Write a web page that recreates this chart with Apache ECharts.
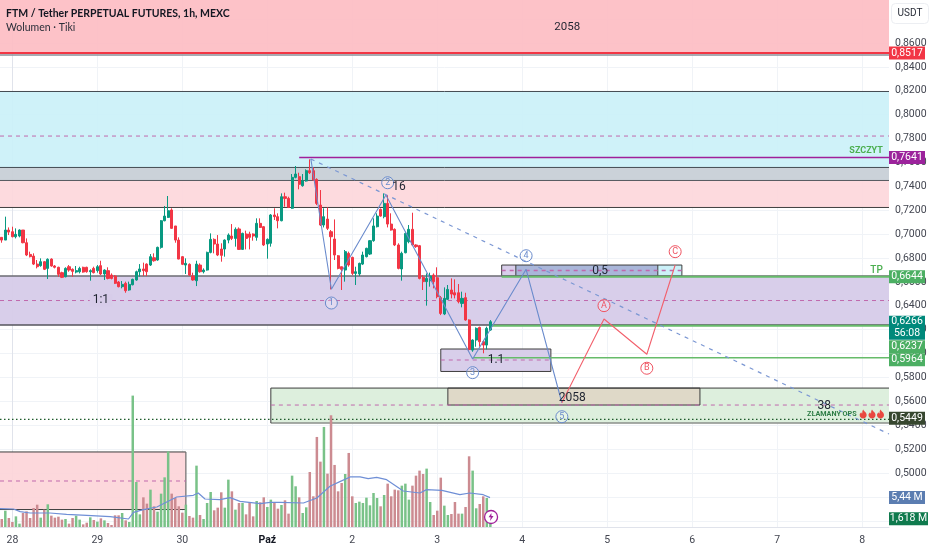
<!DOCTYPE html>
<html>
<head>
<meta charset="utf-8">
<style>html,body{margin:0;padding:0;background:#fff}#c{width:932px;height:550px}</style>
<script src="https://cdn.jsdelivr.net/npm/echarts@6/dist/echarts.min.js"></script>
</head>
<body>
<div id="c"></div>
<script>
// Hours counted from 28 Sep 00:00; candle i stands at hour i-3.
const firstCandleHour = -3;
// open, close, low, high in ten-thousandths of USDT
const candleRows = [
[6973,6950,6928,6973],[6950,7034,6950,7146],[7034,7017,6992,7056],[7020,6978,6973,7062],[6978,6998,6964,7048],
[6984,7034,6973,7040],[7034,6928,6923,7034],[6928,6825,6816,6964],[6830,6811,6805,6853],[6816,6749,6741,6839],
[6749,6727,6713,6783],[6736,6769,6727,6797],[6769,6705,6699,6775],[6713,6789,6624,6797],[6791,6733,6727,6797],
[6733,6722,6713,6741],[6722,6663,6643,6727],[6677,6638,6632,6685],[6643,6713,6638,6722],[6727,6699,6685,6741],
[6705,6688,6643,6713],[6682,6694,6671,6733],[6685,6713,6671,6727],[6722,6682,6677,6727],[6722,6685,6677,6727],
[6685,6694,6610,6705],[6713,6677,6671,6727],[6694,6727,6677,6741],[6736,6666,6657,6777],[6666,6699,6616,6705],
[6694,6629,6621,6722],[6657,6629,6621,6671],[6649,6588,6582,6657],[6599,6560,6554,6607],[6560,6579,6546,6607],
[6588,6526,6509,6602],[6532,6579,6526,6602],[6576,6621,6571,6627],[6616,6685,6610,6694],[6685,6708,6643,6749],
[6708,6694,6649,6761],[6749,6685,6649,6755],[6741,6811,6733,6833],[6802,6777,6769,6839],[6783,6889,6777,6895],
[6889,7112,6878,7118],[7112,7151,7107,7235],[7140,7196,7135,7319],[7202,7048,7043,7216],[7068,6950,6928,7068],
[6950,6791,6789,6973],[6811,6747,6741,6816],[6741,6755,6666,6797],[6747,6657,6649,6755],[6649,6616,6610,6677],
[6610,6749,6565,6777],[6741,6685,6677,6755],[6685,6699,6671,6713],[6699,6847,6694,6853],[6847,6956,6839,7006],
[6956,6917,6839,6964],[6917,6825,6816,6992],[6875,6822,6769,6923],[6875,6950,6811,6956],[6950,6992,6923,7006],
[6984,6964,6950,7084],[6964,7040,6895,7056],[7043,6872,6867,7056],[6872,7006,6867,7012],[7001,6964,6872,7029],
[7001,6973,6872,7020],[7001,6984,6945,7006],[6973,7090,6945,7132],[7090,7056,7051,7132],[7062,6909,6900,7068],
[6917,6956,6794,6964],[6923,7160,6895,7168],[7160,7146,7118,7216],[7146,7112,7048,7174],[7112,7313,7107,7341],
[7313,7299,7230,7347],[7299,7224,7218,7313],[7216,7475,7210,7503],[7475,7503,7467,7570],[7481,7417,7375,7514],
[7405,7447,7397,7503],[7444,7531,7439,7542],[7531,7514,7503,7626],[7531,7453,7447,7559],[7458,7257,7243,7467],
[7243,7076,7068,7369],[7076,7146,7056,7216],[7126,7048,7034,7224],[7020,6978,6537,7034],[6959,6825,6783,7123],
[6819,6713,6705,6825],[6727,6705,6532,6727],[6699,6853,6602,6867],[6839,6741,6727,6853],[6805,6671,6657,6811],
[6671,6685,6574,6727],[6666,6755,6649,6761],[6749,6825,6741,6853],[6811,6881,6805,6886],[6833,6945,6825,6950],
[6945,7068,6936,7132],[7062,7151,7056,7174],[7207,7151,7146,7215],[7146,7257,7132,7341],[7257,7084,7056,7327],
[7084,7034,7029,7174],[7040,6909,6900,7048],[6909,6713,6705,6923],[6708,6839,6610,6853],[6844,7006,6839,7020],
[6936,7040,6923,7076],[7040,6909,6900,7179],[6909,6895,6885,6915],[6903,6629,6621,6909],[6638,6602,6532,6657],
[6602,6629,6401,6671],[6610,6649,6560,6677],[6657,6602,6546,6671],[6635,6476,6462,6722],[6468,6336,6322,6482],
[6331,6462,6322,6554],[6454,6537,6448,6574],[6532,6498,6462,6629],[6509,6490,6462,6621],[6509,6434,6420,6582],
[6420,6462,6387,6518],[6468,6281,6275,6509],[6281,6035,6024,6286],[6029,6113,6015,6119],[6113,6211,6057,6219],
[6219,6099,6057,6225],[6099,6071,6002,6113],[6071,6211,6035,6225],[6197,6266,6191,6280]
];
// volume in millions
const volumes = [
1.48,3.02,1.67,.93,1.97,.62,2.59,2.90,1.67,3.52,4.13,1.73,3.21,4.20,2.10,1.73,1.91,1.36,1.48,.62,
1.67,2.10,1.36,.49,.80,1.79,1.30,.99,1.60,1.23,.74,.37,2.16,2.16,2.59,1.23,.93,24.31,8.33,2.34,
5.49,4.32,6.91,3.83,2.84,6.17,9.19,14.0,6.17,5.37,3.83,2.65,4.13,2.04,1.73,11.35,2.22,1.48,4.44,6.48,
3.09,3.58,6.42,3.58,8.76,6.60,3.21,4.44,4.44,2.34,4.57,1.97,4.81,4.57,5.49,3.70,5.06,4.57,3.39,4.07,
4.94,2.47,9.50,7.53,5.49,2.59,3.64,10.18,5.68,16.66,12.09,18.51,9.87,20.67,11.48,6.60,8.14,9.81,13.70,5.68,
4.44,4.69,4.44,5.43,4.01,6.29,5.37,3.83,5.92,8.02,5.68,6.91,6.79,7.65,8.02,5.06,7.65,9.50,10.43,9.81,
10.80,4.63,2.22,3.02,9.13,3.95,2.22,2.41,4.63,2.47,2.47,3.70,13.08,10.43,3.46,4.26,5.68,5.37,1.618
];
const maHours = [-3.5,.3,2.2,5,10.6,15.3,21,27.6,32.8,34.2,37,40.8,43.6,46.4,51.1,52.5,54.4,58.6,61.5,64.3,70,72.8,75.6,82.2,86,89.7,92.5,95.4,98.2,100.5,102.9,105.7,110.4,115.1,117,121.3,126.4,129.2,133,134.9];
const maVolumes = [3.39,3.33,2.84,2.59,2.59,2.34,2.16,1.91,1.48,2.71,3.21,3.7,4.63,5.55,5.86,6.29,5.18,5.06,5.43,4.75,4.32,4.57,4.57,4.44,5.37,7.53,8.39,9.26,9.26,8.95,9.19,8.76,6.66,6.29,6.91,6.79,5.98,6.29,5.98,5.44];
const tickHours = [0,24,48,72,96,120,144,168,192,216,240];
const tickLabels = ['28','29','30','Paź','2','3','4','5','6','7','8'];
const priceLabels = [.50,.52,.54,.56,.58,.60,.62,.64,.66,.68,.70,.72,.74,.76,.78,.80,.82,.84,.86];
const priceGrid = [.46,.48].concat(priceLabels,[.88]);
const waveHours = [84.3,90.1,105.5,130,145.1,155.2];
const wavePrices = [.7629,.6538,.7327,.5954,.6705,.5588];
const correctionHours = [155.2,167.1,179.2,187.2];
const correctionPrices = [.5588,.6289,.5994,.6741];
const waveMarks = [['1',90.1,.6423],['2',106,.7430],['3',130,.5840],['4',145.1,.6819],['5',155.2,.5471]];
const correctionMarks = [['A',167.1,.6401],['B',179.2,.5877],['C',187.2,.6853]];
const trendHours = [84.3,247.6];
const trendPrices = [.7629,.5326];

const hMin = -3.5, hMax = 247.6, pMin = .45478, pMax = .896, volMax = 97.5;
const FONT = 'Roboto, "Liberation Sans", sans-serif';
const UP = '#089981', DOWN = '#f23645';
const series = [];

function box(h0,h1,p0,p1,fill,stroke,strokeWidth){
  series.push({type:'custom',silent:true,animation:false,z:1,
    data:[[h0,p0,h1,p1]],encode:{x:[0,2],y:[1,3]},
    renderItem:function(params,api){
      const a=api.coord([api.value(0),api.value(1)]),b=api.coord([api.value(2),api.value(3)]);
      return {type:'rect',shape:{x:a[0],y:b[1],width:b[0]-a[0],height:a[1]-b[1]},
        style:{fill:fill,stroke:stroke||null,lineWidth:strokeWidth||1}};
    }});
}
function line(hs,ps,color,width,dash,z,yAxisIndex){
  series.push({type:'line',silent:true,animation:false,showSymbol:false,symbol:'none',z:z||2,
    yAxisIndex:yAxisIndex||0,data:hs.map((h,i)=>[h,ps[i]]),
    lineStyle:{color:color,width:width,type:dash||'solid'}});
}
function note(h,p,text,o){
  o=o||{};
  series.push({type:'scatter',silent:true,animation:false,z:o.z||6,symbolSize:1,clip:false,
    itemStyle:{color:'transparent',opacity:1},data:[[h,p]],
    label:Object.assign({show:true,position:'inside',formatter:text,fontFamily:FONT,fontSize:12,color:'#1f2430'},o.label||{})});
}
function ring(mark,color){
  series.push({type:'scatter',silent:true,animation:false,z:6,symbol:'circle',symbolSize:12,clip:false,
    itemStyle:{color:'rgba(255,255,255,0.25)',borderColor:color,borderWidth:1,opacity:1},data:[[mark[1],mark[2]]],
    label:{show:true,position:'inside',formatter:mark[0],fontFamily:FONT,fontSize:9,color:color}});
}
function tag(yAxisIndex,value,text,color,dy,h,w,fs){
  series.push({type:'scatter',silent:true,animation:false,z:9,yAxisIndex:yAxisIndex,symbol:'rect',clip:false,
    symbolSize:[w||36,h||13],symbolOffset:[(w||36)/2,dy||0],itemStyle:{color:color,opacity:1},data:[[hMax,value]],
    label:{show:true,position:'inside',formatter:text,color:'#fff',fontFamily:FONT,fontSize:fs||10.5,lineHeight:12}});
}

// zones
box(hMin,hMax,.8517,pMax,'rgba(253,189,195,0.92)');
box(hMin,hMax,.7558,.8194,'rgba(203,241,248,0.92)');
box(hMin,hMax,.7449,.7558,'rgba(200,208,215,0.95)');
box(hMin,hMax,.7223,.7444,'rgba(253,215,219,0.92)');
box(hMin,hMax,.6239,.6649,'rgba(214,203,233,0.95)');
box(73,hMax,.5418,.5711,'rgba(219,238,219,0.95)');
box(123,194.2,.5569,.5711,'#dfd9c8','#3d3d3d');
box(121,152.1,.5850,.6038,'rgba(214,203,233,0.95)','#3d3d3d');
box(138.2,142.2,.6649,.6741,'rgba(214,203,233,0.95)');
box(142.2,182.3,.6649,.6741,'#a9b6d9');
box(182.3,189.1,.6649,.6741,'#cbf1f8');
box(138.2,189.1,.6649,.6741,'transparent','#3d3d3d');
line([142.2,142.2],[.6649,.6741],'#3d3d3d',1,'solid',2);
line([182.3,182.3],[.6649,.6741],'#3d3d3d',1,'solid',2);
box(hMin,49,.4694,.5176,'rgba(253,213,217,0.92)');
line([hMin,49],[.5176,.5176],'#3d3d3d',1);
line([hMin,49],[.4694,.4694],'#3d3d3d',1);
line([49,49],[.4694,.5176],'#6b6b6b',1.2);

// level lines
line([hMin,hMax],[.8500,.8500],'#8a8f98',1.5);
line([hMin,hMax],[.8517,.8517],'#f23645',2);
line([hMin,hMax],[.8194,.8194],'#444b52',1);
line([hMin,hMax],[.7558,.7558],'#444b52',1);
line([hMin,hMax],[.7449,.7449],'#55585e',1);
line([hMin,hMax],[.7223,.7223],'#3f3f3f',1);
line([hMin,hMax],[.6649,.6649],'#6b6b72',1.5);
line([hMin,hMax],[.6239,.6239],'#55555c',1.5);
line([73,hMax],[.5711,.5711],'#3d3d3d',1);
line([73,hMax],[.5418,.5418],'#8a8f8a',1.5);
line([73,73],[.5418,.5711],'#3d3d3d',1);
line([81,hMax],[.7641,.7641],'#a0209a',1.5);
const DASH='#c069ad';
line([hMin,hMax],[.7821,.7821],DASH,1,[4,4]);
line([hMin,hMax],[.6444,.6444],DASH,1,[4,4]);
line([73,hMax],[.5569,.5569],DASH,1,[4,4]);
line([121,152.1],[.5946,.5946],DASH,1,[4,4]);
line([138.2,189.1],[.6695,.6695],DASH,1.5,[4,4],3);
line([hMin,49],[.4933,.4933],DASH,1,[4,4]);
line([138.2,hMax],[.6642,.6642],'#66bb6a',2);
line([134.9,hMax],[.6232,.6232],'#66bb6a',2);
line([130,hMax],[.5964,.5964],'#66bb6a',1.5);
line([hMin,hMax],[.5449,.5449],'#1d5a2a',1.2,[1.5,2.5]);

// volume
series.push({type:'bar',silent:true,animation:false,z:3,yAxisIndex:1,barWidth:2.5,
  data:volumes.map((v,i)=>({value:[i+firstCandleHour,v],
    itemStyle:{color:candleRows[i][1]>=candleRows[i][0]?'#79c288':'#cc8b91'}}))});
line(maHours,maVolumes,'#6f8fd6',1.2,'solid',4,1);

// candles
series.push({type:'candlestick',silent:true,animation:false,z:5,barWidth:2.6,
  encode:{x:0,y:[1,2,3,4]},
  itemStyle:{color:UP,color0:DOWN,borderColor:UP,borderColor0:DOWN,borderWidth:1},
  data:candleRows.map((r,i)=>[i+firstCandleHour,r[0]/1e4,r[1]/1e4,r[2]/1e4,r[3]/1e4])});

// forecast paths
line(trendHours,trendPrices,'#7b97d3',1.2,[4,5],6);
line(waveHours,wavePrices,'#6a8bcc',1.1,'solid',6);
line(correctionHours,correctionPrices,'#f2606c',1.1,'solid',6);
waveMarks.forEach(m=>ring(m,'#6a8bcc'));
correctionMarks.forEach(m=>ring(m,'#ef5361'));

// annotations
note(156.7,.8734,'2058',{label:{fontSize:11.5}});
note(25,.6446,'1:1',{label:{fontSize:12,backgroundColor:'#d7cce9',padding:[0,3]}});
note(109.2,.7394,'16');
note(166,.6691,'0,5');
note(136.6,.5946,'1.1');
note(158.1,.5628,'2058');
note(229.3,.5560,'38');
note(246,.7696,'SZCZYT',{label:{position:'left',distance:0,color:'#4caf50',fontSize:9,fontWeight:700}});
note(246,.6699,'TP',{label:{position:'left',distance:0,color:'#4caf50',fontSize:10,fontWeight:500}});
note(238.6,.5494,'ZŁAMANY OPS',{label:{position:'left',distance:0,color:'#2e7d46',fontSize:7.2,fontWeight:700}});
const flame='path://M5 0 C6 3 9 4 9 8 C9 11 7 13 5 13 C3 13 1 11 1 8 C1 6 2 5 3 4 C3 6 4 6 4 5 C4 3 4 2 5 0 Z';
series.push({type:'scatter',silent:true,animation:false,z:6,symbol:flame,symbolSize:[7,9],clip:false,
  itemStyle:{color:'#e9483f',opacity:1},data:[[240.3,.5494],[242.8,.5494],[245.2,.5494]]});

// flash badge
series.push({type:'scatter',silent:true,animation:false,z:8,yAxisIndex:1,symbol:'circle',symbolSize:13,clip:false,
  itemStyle:{color:'#fff',borderColor:'#a0209a',borderWidth:1.3,opacity:1},data:[[135.2,1.85]]});
series.push({type:'scatter',silent:true,animation:false,z:9,yAxisIndex:1,symbol:'path://M5 0 L1 6 L4 6 L3 11 L8 4 L5 4 Z',symbolSize:[5,8],clip:false,
  itemStyle:{color:'#a0209a',opacity:1},data:[[135.2,1.85]]});

// price tags
tag(0,.8517,'0,8517','#f23645',0);
tag(0,.7641,'0,7641','#9c239c',0);
tag(0,.6644,'0,6644','#4caf63',0);
tag(0,.6266,'0,6266\n56:08','#00897b',6,24);
tag(0,.6237,'0,6237','#4caf63',21.5);
tag(0,.5964,'0,5964','#4caf63',2);
tag(0,.5449,'0,5449','#37472f',-1);
tag(1,5.44,'5,44 M','#5b7db1',0);
tag(1,1.618,'1,618 M','#0f7a4d',0.5,13,39);

const chart = echarts.init(document.getElementById('c'),null,{renderer:'canvas'});
chart.setOption({
  animation:false,
  backgroundColor:'#fff',
  title:{left:6,top:8,text:'FTM / Tether PERPETUAL FUTURES, 1h, MEXC',subtext:'Wolumen · Tiki',itemGap:3,padding:0,
    textStyle:{fontFamily:'Lato,sans-serif',fontSize:10.5,fontWeight:700,color:'#131722'},
    subtextStyle:{fontFamily:'Lato,sans-serif',fontSize:10.5,color:'#2a2e39'}},
  grid:{left:0,right:43,top:0,bottom:23,containLabel:false},
  xAxis:{type:'value',min:hMin,max:hMax,
    axisLine:{show:true,lineStyle:{color:'#e0e3eb'}},
    axisTick:{show:false,customValues:tickHours},
    splitLine:{show:true,lineStyle:{color:'#f0f3f7',width:1}},
    axisLabel:{customValues:tickHours,margin:8,fontFamily:FONT,fontSize:10.5,color:'#434651',hideOverlap:false,showMinLabel:true,showMaxLabel:true,
      formatter:function(v){const s=tickLabels[tickHours.indexOf(v)];return s==='Paź'?'{b|'+s+'}':s;},
      rich:{b:{fontWeight:700,fontFamily:FONT,fontSize:10.5,color:'#131722'}}}},
  yAxis:[
    {type:'value',position:'right',min:pMin,max:pMax,
      axisLine:{show:true,lineStyle:{color:'#e0e3eb'}},
      axisTick:{show:false,customValues:priceGrid},
      splitLine:{show:true,lineStyle:{color:'#f0f3f7',width:1}},
      axisLabel:{customValues:priceLabels,margin:6,fontFamily:FONT,fontSize:10.5,color:'#434651',
        formatter:function(v){return v.toFixed(4).replace('.',',');}}},
    {type:'value',show:false,min:0,max:volMax,splitLine:{show:false}}
  ],
  graphic:[
    {type:'rect',silent:true,shape:{x:891.5,y:3.5,width:37,height:20,r:4},style:{fill:'#fff',stroke:'#eceef2'}},
    {type:'text',silent:true,style:{x:910,y:13.5,text:'USDT',align:'center',verticalAlign:'middle',font:'10px Roboto, sans-serif',fill:'#2a2e39'}}
  ],
  series:series
});
</script>
</body>
</html>
